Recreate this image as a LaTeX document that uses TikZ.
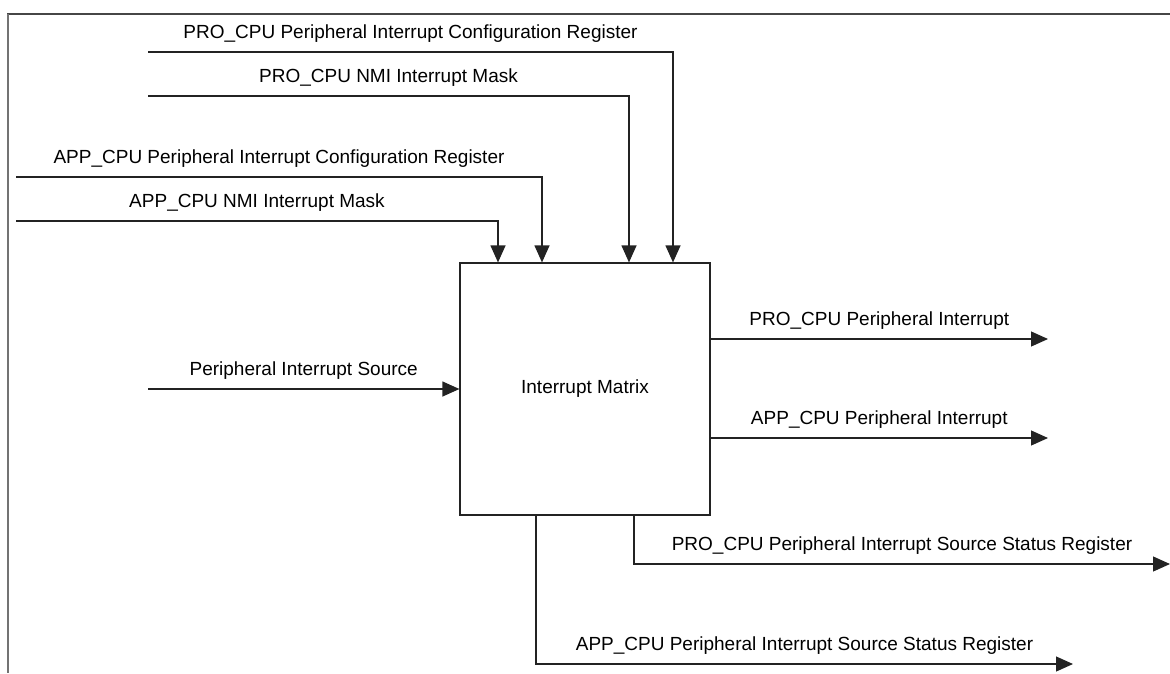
\documentclass[tikz,border=0pt]{standalone}
\usepackage{fontspec}
\setmainfont{Liberation Sans}
\usetikzlibrary{arrows.meta,calc}
\definecolor{framedark}{RGB}{70,70,70}
\definecolor{framelight}{RGB}{115,115,115}
\definecolor{linec}{RGB}{35,35,35}
\begin{document}
\begin{tikzpicture}[x=1pt,y=-1pt,
  every node/.style={font=\fontsize{19}{23}\selectfont},
  conn/.style={draw=linec, line width=1.2pt},
  arr/.style={conn, -{Triangle[length=17pt,width=15pt]}},
  lbl/.style={anchor=base, yshift=14pt, inner sep=0pt},
  mbox/.style={draw=linec, line width=1.2pt, minimum width=250pt, minimum height=252pt, inner sep=0pt}]
\useasboundingbox (0,0) rectangle (1170,673);
% outer frame
\draw[framedark, line width=2pt] (7,14) -- (1170,14);
\draw[framelight, line width=2pt] (8,14) -- (8,673);
% main block
\node[mbox] (im) at (585,389) {Interrupt Matrix};
% input starting points
\coordinate (pcfg) at (148,52);
\coordinate (pnmi) at (148,96);
\coordinate (acfg) at (16,177);
\coordinate (anmi) at (16,221);
\coordinate (psrc) at (148,389);
% outputs
\coordinate (pout) at (1048,339);
\coordinate (aout) at (1048,438);
\coordinate (psts) at (1170,564);
\coordinate (asts) at (1073,664);
% inputs from the top
\draw[arr] (pcfg) -| node[pos=0.25,lbl]{PRO\_CPU Peripheral Interrupt Configuration Register} ([xshift=88pt]im.north);
\draw[arr] (pnmi) -| node[pos=0.25,lbl]{PRO\_CPU NMI Interrupt Mask} ([xshift=44pt]im.north);
\draw[arr] (acfg) -| node[pos=0.25,lbl]{APP\_CPU Peripheral Interrupt Configuration Register} ([xshift=-43pt]im.north);
\draw[arr] (anmi) -| node[pos=0.25,lbl]{APP\_CPU NMI Interrupt Mask} ([xshift=-87pt]im.north);
% input from the left
\draw[arr] (psrc) -- node[lbl]{Peripheral Interrupt Source} (im.west);
% outputs to the right
\draw[arr] (im.east |- pout) -- node[lbl]{PRO\_CPU Peripheral Interrupt} (pout);
\draw[arr] (im.east |- aout) -- node[lbl]{APP\_CPU Peripheral Interrupt} (aout);
% status outputs from the bottom
\draw[arr] ([xshift=49pt]im.south) |- node[pos=0.75,lbl]{PRO\_CPU Peripheral Interrupt Source Status Register} (psts);
\draw[arr] ([xshift=-49pt]im.south) |- node[pos=0.75,lbl]{APP\_CPU Peripheral Interrupt Source Status Register} (asts);
\end{tikzpicture}
\end{document}
